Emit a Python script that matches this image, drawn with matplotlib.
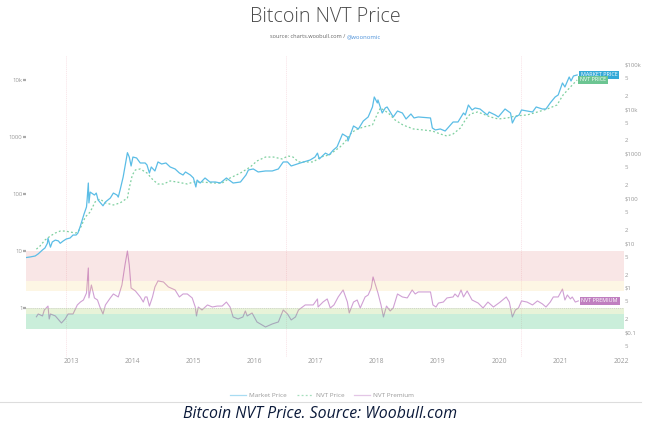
import matplotlib
matplotlib.use('Agg')
import matplotlib.pyplot as plt
from matplotlib.lines import Line2D
from matplotlib.ticker import FixedLocator, FixedFormatter

plt.rcParams['font.family'] = ['Open Sans', 'DejaVu Sans']

#market price, right axis
price_years = [2012.26,2012.33,2012.41,2012.46,2012.53,2012.57,2012.61,2012.62,2012.66,2012.69,2012.74,2012.79,2012.82,2012.87,2012.92,2012.98,
    2013.03,2013.08,2013.11,2013.15,2013.18,2013.21,2013.25,2013.26,2013.28,2013.29,2013.31,2013.38,2013.41,2013.44,2013.52,2013.56,2013.64,2013.69,2013.75,2013.77,2013.80,2013.85,2013.90,2013.92,2013.95,2013.98,
    2014.01,2014.07,2014.13,2014.21,2014.24,2014.28,2014.31,2014.37,2014.42,2014.48,2014.55,2014.62,2014.70,2014.77,2014.83,2014.87,2014.95,
    2015.00,2015.04,2015.06,2015.11,2015.19,2015.27,2015.36,2015.44,2015.54,2015.65,2015.77,2015.86,2015.90,2015.98,
    2016.06,2016.18,2016.29,2016.39,2016.47,2016.54,2016.60,2016.75,2016.91,2016.99,
    2017.03,2017.06,2017.16,2017.22,2017.29,2017.35,2017.44,2017.52,2017.53,2017.62,2017.70,2017.78,2017.86,2017.93,2017.96,
    2018.01,2018.02,2018.09,2018.14,2018.17,2018.27,2018.34,2018.42,2018.48,2018.56,2018.61,2018.68,2018.88,2018.91,2018.96,
    2019.04,2019.12,2019.25,2019.33,2019.42,2019.45,2019.50,2019.56,2019.61,2019.69,2019.81,2019.84,2019.94,2019.99,
    2020.10,2020.19,2020.22,2020.27,2020.33,2020.37,2020.46,2020.55,2020.61,2020.71,2020.77,2020.84,2020.92,2020.97,
    2021.04,2021.08,2021.15,2021.18,2021.22,2021.28]
price_values = [4.8,4.95,5.2,5.8,7.1,7.85,10,13,8.2,10.7,11.8,11.3,10,11.3,12.5,13.1,
    15.3,15.3,17,24.4,33.2,45.2,65,93,223,80,140,120,133,93,69,84,103,133,120,108,156,304,730,1065,850,536,
    850,810,626,626,565,374,509,415,660,594,626,509,460,374,337,394,337,
    289,182,260,223,289,235,235,223,289,223,235,337,437,460,
    394,415,415,460,660,660,536,626,730,850,
    1040,770,1040,945,1220,1430,2790,2390,1940,4210,3610,5440,6700,11200,18750,
    13800,16100,8210,10650,11200,6700,9100,8210,6040,7810,6360,6700,6360,3800,3430,
    3610,3250,5170,5170,8210,7420,12400,9600,10650,10100,7420,8650,7420,6700,
    10100,8210,4910,6700,7420,9600,9100,8650,11200,10100,10100,13800,18750,20800,
    38600,31400,52500,42700,55300,58300]

#nvt price, right axis
nvt_years = [2012.43,2012.49,2012.57,2012.66,2012.74,2012.82,2012.90,2012.98,
    2013.07,2013.11,2013.15,2013.23,2013.31,2013.39,2013.47,2013.56,2013.69,2013.80,2013.92,2013.95,
    2014.00,2014.05,2014.13,2014.24,2014.34,2014.42,2014.51,2014.62,2014.73,2014.90,
    2015.00,2015.14,2015.32,2015.47,2015.60,2015.77,2015.93,
    2016.04,2016.18,2016.31,2016.45,2016.55,2016.63,2016.72,2016.86,2016.96,
    2017.08,2017.22,2017.40,2017.48,2017.57,2017.65,2017.78,2017.93,2017.98,
    2018.06,2018.19,2018.30,2018.43,2018.60,2018.76,2018.91,
    2019.04,2019.15,2019.25,2019.37,2019.45,2019.53,2019.65,2019.74,2019.86,2019.99,
    2020.14,2020.27,2020.46,2020.63,2020.79,2020.95,
    2021.05,2021.17,2021.28]
nvt_values = [7.4,8.7,11.8,14.6,17,18.8,18.8,17.9,
    17,17.9,22,38.7,50,84,98,80,72,80,103,173,
    337,437,460,374,260,212,212,248,235,212,
    235,235,223,223,289,374,509,
    694,850,850,770,897,850,660,660,660,
    850,945,1430,1850,2790,3430,3990,4430,6360,
    10650,8210,5740,4430,3610,3430,3250,
    2790,2510,2790,3800,5740,7810,8650,7810,6700,6040,
    6360,7060,7420,8650,10100,12400,
    20800,31400,45000]

#nvt premium, left axis
premium_years = [2012.43,2012.46,2012.53,2012.56,2012.62,2012.64,2012.66,2012.74,2012.84,2012.90,2012.95,
    2013.03,2013.10,2013.15,2013.20,2013.25,2013.28,2013.29,2013.33,2013.38,2013.43,2013.47,2013.52,2013.56,2013.64,2013.69,2013.77,2013.83,2013.88,2013.92,2013.95,2013.98,
    2014.05,2014.13,2014.18,2014.21,2014.24,2014.28,2014.33,2014.37,2014.42,2014.51,2014.59,2014.70,2014.77,2014.83,2014.90,2014.98,
    2015.03,2015.05,2015.08,2015.14,2015.23,2015.31,2015.39,2015.47,2015.54,2015.60,2015.65,2015.73,2015.81,2015.85,2015.88,2015.96,
    2016.04,2016.18,2016.29,2016.39,2016.47,2016.54,2016.60,2016.67,2016.72,2016.83,2016.96,
    2017.03,2017.04,2017.12,2017.19,2017.24,2017.30,2017.37,2017.45,2017.52,2017.55,2017.62,2017.68,2017.73,2017.81,2017.86,2017.91,2017.94,2017.99,
    2018.02,2018.07,2018.11,2018.16,2018.22,2018.27,2018.34,2018.42,2018.50,2018.58,2018.63,2018.68,2018.88,2018.92,2018.97,
    2019.01,2019.09,2019.15,2019.25,2019.28,2019.33,2019.38,2019.42,2019.48,2019.56,2019.66,2019.74,2019.82,2019.91,
    2020.02,2020.12,2020.17,2020.22,2020.27,2020.32,2020.37,2020.46,2020.55,2020.63,2020.71,2020.77,2020.84,2020.89,2020.97,
    2021.04,2021.08,2021.12,2021.17,2021.20,2021.25,2021.30]
premium_values = [.70,.785,.724,.922,1.08,.641,.785,.724,.545,.641,.785,
    .785,1.13,1.27,1.38,1.83,5.03,1.50,2.53,1.50,1.38,1.04,.785,1.13,1.50,1.76,1.56,2.53,5.69,10,5.69,2.24,
    1.99,1.56,1.27,1.56,1.56,1.08,1.56,2.34,2.98,2.86,2.34,2.07,1.56,1.76,1.76,1.50,
    1.04,.724,1.04,.922,1.13,1.04,1.08,1.08,1.27,1.04,.695,.641,.695,.886,.724,.817,
    .568,.464,.524,.568,.922,.785,.616,.695,.922,1.13,1.13,
    1.44,1.04,1.27,1.44,1,1.13,1.56,2.07,1.27,.817,1.27,1.38,1,1.56,1.69,2.24,3.50,2.34,
    1.83,1.13,.695,1.08,.886,1,1.76,1.56,1.50,2.07,1.76,1.91,1.91,1.13,1.04,
    1.22,1.27,1.50,1.56,1.76,1.56,2.07,1.56,1.99,1.38,1.22,1,1.27,1.04,
    1.27,1.56,1.27,.695,.922,1,1.33,1.27,1.13,1.33,1.18,1.04,1.27,1.56,1.56,
    2.15,1.38,1.69,1.44,1.56,1.27,1.33]

halvings = [2012.91, 2016.52, 2020.36]
years = list(range(2013, 2023))

left_ticks = [1, 10, 100, 1000, 10000]
left_labels = ['1', '10', '100', '1000', '10k']
right_ticks = [0.05, 0.1, 0.2, 0.5, 1, 2, 5, 10, 20, 50, 100, 200, 500, 1000, 2000, 5000, 10000, 20000, 50000, 100000]
right_labels = ['5', '$0.1', '2', '5', '$1', '2', '5', '$10', '2', '5', '$100', '2', '5', '$1000', '2', '5', '$10k', '2', '5', '$100k']

#zones of the premium, low, high, colour, alpha
band_low = [3, 2, 0.78, 0.43]
band_high = [10, 3, 1, 0.78]
band_colors = ['#d9534f', '#f5c542', '#8cc63f', '#2ebd6e']
band_alpha = [0.14, 0.14, 0.2, 0.25]

blue = '#5bbde6'
green = '#7fd0a0'
purple = '#d0a0d4'
grey = '#999999'

fig = plt.figure(figsize=(6.51, 4.40), dpi=100)
ax = fig.add_axes([26/651, 1-357/440, 598/651, 302/440])
ax2 = ax.twinx()

ax.plot(premium_years, premium_values, color=purple, lw=0.8, zorder=2)
for lo, hi, c, a in zip(band_low, band_high, band_colors, band_alpha):
    ax.axhspan(lo, hi, color=c, alpha=a, lw=0, zorder=3)
ax.axhline(1, color='#c8c8c8', lw=0.6, ls=(0, (1, 1.5)), zorder=4)
for h in halvings:
    ax.axvline(h, color='#f9e3e8', lw=0.6, ls=(0, (1.5, 1)), zorder=1)

ax2.plot(nvt_years, nvt_values, color=green, lw=0.9, ls=(0, (1.5, 1.8)))
ax2.plot(price_years, price_values, color=blue, lw=0.9)

ax.set_yscale('log')
ax2.set_yscale('log')
ax.set_xlim(2012.26, 2022.047)
ax.set_ylim(0.138, 27400)
ax2.set_ylim(0.0286, 163000)

ax.set_xticks(years)
ax.set_xticklabels([str(y) for y in years])
ax.tick_params(axis='x', length=0, labelsize=4.9, labelcolor=grey, pad=1)
ax.yaxis.set_major_locator(FixedLocator(left_ticks))
ax.yaxis.set_major_formatter(FixedFormatter(left_labels))
ax.yaxis.set_minor_locator(FixedLocator([]))
ax.tick_params(axis='y', length=2, width=1.6, color='#aaaaaa', labelsize=4.3, labelcolor=grey, pad=0.5)
ax2.yaxis.set_major_locator(FixedLocator(right_ticks))
ax2.yaxis.set_major_formatter(FixedFormatter(right_labels))
ax2.yaxis.set_minor_locator(FixedLocator([]))
ax2.tick_params(axis='y', length=0, labelsize=4.3, labelcolor=grey, pad=0.4)
for a in (ax, ax2):
    for s in a.spines.values():
        s.set_visible(False)

#end labels
ax2.annotate('MARKET PRICE', xy=(price_years[-1], price_values[-1]), xytext=(2.5, 0), textcoords='offset points',
    fontsize=3.9, color='white', va='center', bbox=dict(boxstyle='square,pad=0.35', fc='#35a9d8', ec='none'))
ax2.annotate('NVT PRICE', xy=(nvt_years[-1], nvt_values[-1]), xytext=(2.2, 0), textcoords='offset points',
    fontsize=3.9, color='white', va='center', bbox=dict(boxstyle='square,pad=0.35', fc='#6cc592', ec='none'))
ax.annotate('NVT PREMIUM', xy=(premium_years[-1], premium_values[-1]), xytext=(2.2, 0), textcoords='offset points',
    fontsize=3.9, color='white', va='center', zorder=6, bbox=dict(boxstyle='square,pad=0.35', fc='#c07fc0', ec='none'))

#titles
fig.text(325/651, 1-17/440, 'Bitcoin NVT Price', ha='center', va='center', fontsize=14.2, color='#4a4a4a', fontweight='light')
fig.text(347/651, 1-37/440, 'source: charts.woobull.com / ', ha='right', va='center', fontsize=4.1, color='#666666')
fig.text(347/651, 1-37/440, '@woonomic', ha='left', va='center', fontsize=4.2, color='#4a90d9')

#legend
handles = [Line2D([], [], color='#a8dcf2', lw=0.9),
    Line2D([], [], color='#a5dfbd', lw=0.9, ls=(0, (1.5, 1.8))),
    Line2D([], [], color='#e3c6e6', lw=0.9)]
fig.legend(handles, ['Market Price', 'NVT Price', 'NVT Premium'], loc='center', bbox_to_anchor=(322/651, 1-395/440),
    ncol=3, frameon=False, fontsize=4.6, labelcolor=grey, handlelength=2.5, handletextpad=0.47, columnspacing=1.6)

#caption under the chart
fig.add_artist(Line2D([0, 641/651], [1-402/440, 1-402/440], color='#dddddd', lw=0.8))
fig.text(320/651, 1-414/440, 'Bitcoin NVT Price. Source: Woobull.com', ha='center', va='center', fontsize=11.4, style='italic', color='#0b1a3a')

plt.savefig('out.png', dpi=100)
